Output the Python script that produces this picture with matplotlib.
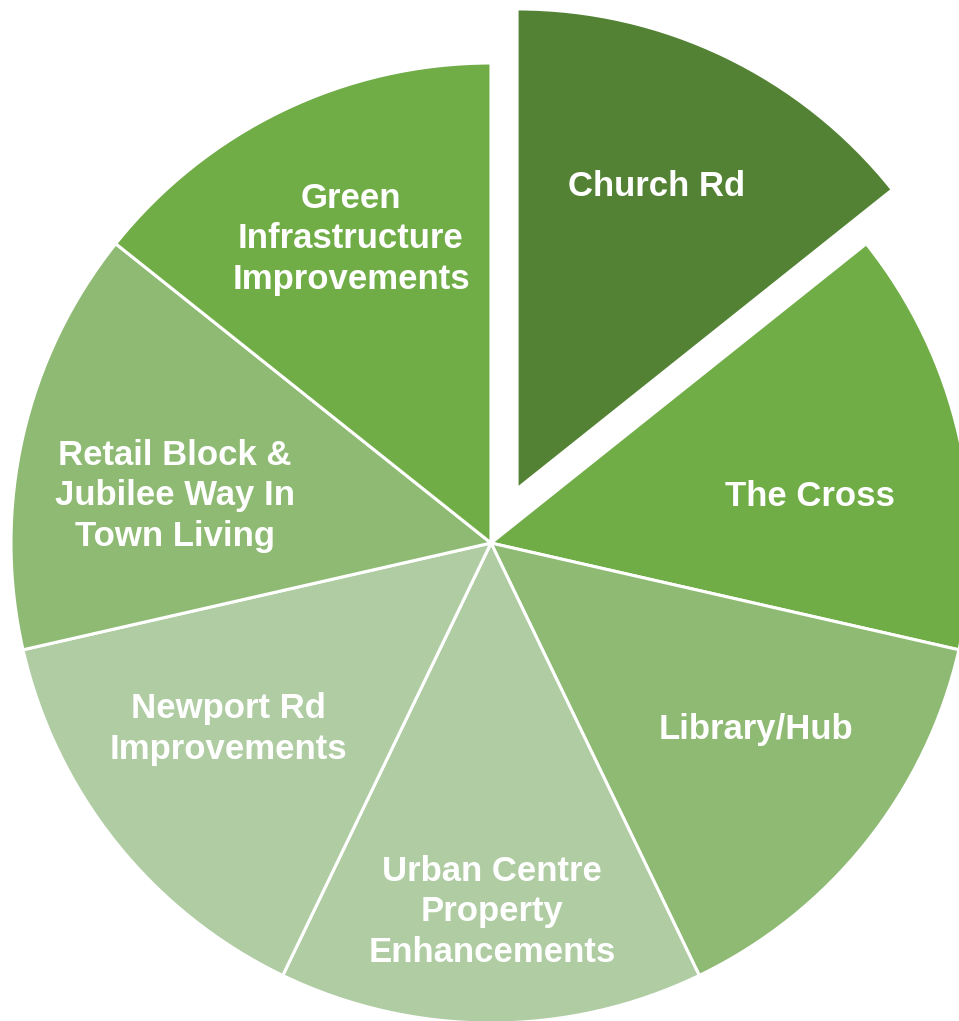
import matplotlib
matplotlib.use("Agg")
import matplotlib.pyplot as plt

categories = ["Church Rd", "The Cross", "Library/Hub",
              "Urban Centre\nProperty\nEnhancements",
              "Newport Rd\nImprovements",
              "Retail Block &\nJubilee Way In\nTown Living",
              "Green\nInfrastructure\nImprovements"]
values = [1, 1, 1, 1, 1, 1, 1]
colors = ["#548235", "#70AD47", "#8EBA73", "#AFCCA3", "#AFCCA3", "#8EBA73", "#70AD47"]
explode = [0.125, 0, 0, 0, 0, 0, 0]

W, H = 959, 1021
CX, CY, R = 491, 543, 480  # pixel centre and radius

# label centres in pixel coordinates (layout)
label_px = [(657, 187), (810, 496), (756, 729), (492, 912), (228, 729), (175, 496), (351, 239)]

fig = plt.figure(figsize=(W / 100, H / 100), dpi=100)
ax = fig.add_axes([0, 0, 1, 1])
wedges, _ = ax.pie(values, colors=colors, explode=explode, startangle=90,
                   counterclock=False, radius=1.0,
                   wedgeprops=dict(edgecolor="white", linewidth=2.2))
ax.set_aspect("auto")
ax.set_xlim(-CX / R, (W - CX) / R)
ax.set_ylim((CY - H) / R, CY / R)
ax.axis("off")

for text, (px, py) in zip(categories, label_px):
    ax.text((px - CX) / R, (CY - py) / R, text, ha="center", va="center",
            color="white", fontsize=25.0, fontweight="bold",
            family=["Liberation Sans", "DejaVu Sans"], linespacing=1.29,
            multialignment="center")

fig.savefig("out.png", dpi=100)
